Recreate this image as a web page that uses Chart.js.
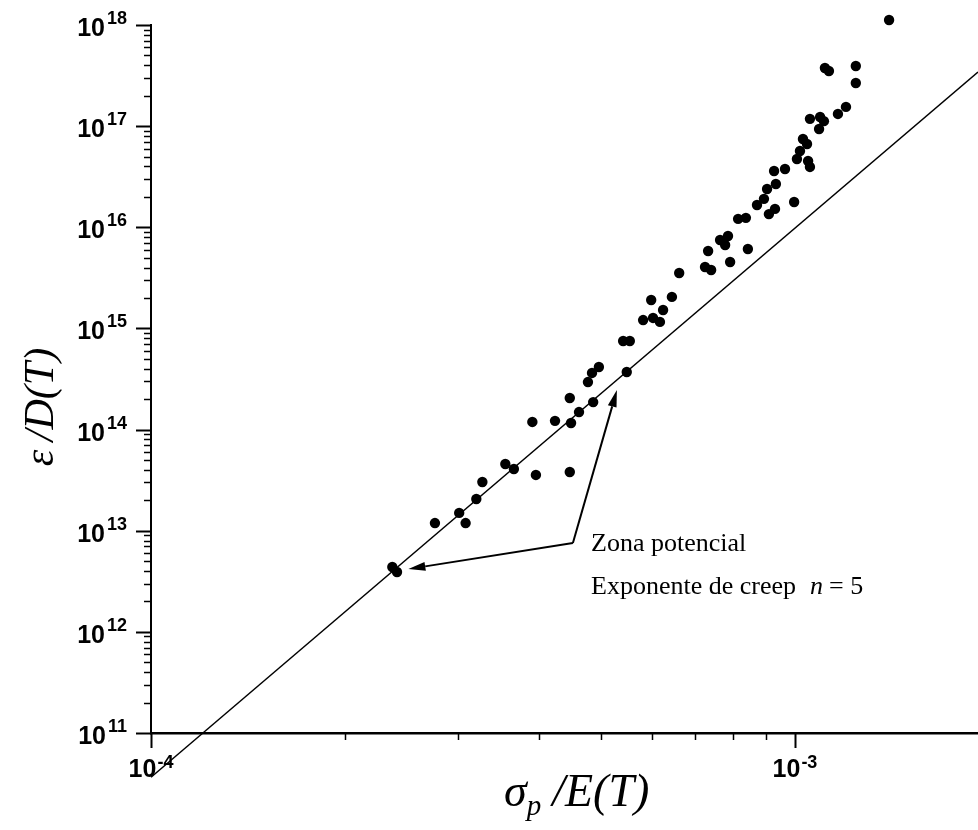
<!DOCTYPE html>
<html>
<head>
<meta charset="utf-8">
<script src="https://cdn.jsdelivr.net/npm/chart.js@4.4.0/dist/chart.umd.min.js"></script>
<style>
html,body{margin:0;padding:0;background:#ffffff;}
canvas{display:block;}
</style>
</head>
<body>
<canvas id="chart" width="978" height="830"></canvas>
<script>
// ---- data ----
const stressRatio = [
  2.37e-4, 2.41e-4, 2.76e-4, 3.01e-4, 3.08e-4, 3.20e-4, 3.27e-4, 3.55e-4, 3.66e-4, 3.96e-4,
  4.47e-4, 3.91e-4, 4.24e-4, 4.49e-4, 4.47e-4, 4.62e-4, 4.86e-4, 4.77e-4, 4.84e-4, 4.96e-4,
  5.41e-4, 5.54e-4, 5.48e-4, 5.81e-4, 5.98e-4, 6.02e-4, 6.17e-4, 6.24e-4, 6.44e-4, 6.61e-4,
  7.25e-4, 7.41e-4, 7.33e-4, 7.93e-4, 8.45e-4, 7.65e-4, 7.87e-4, 7.79e-4, 8.16e-4, 8.39e-4,
  8.73e-4, 8.95e-4, 9.05e-4, 9.34e-4, 9.11e-4, 9.31e-4, 9.97e-4, 9.28e-4, 9.65e-4, 1.007e-3,
  1.018e-3, 1.029e-3, 1.044e-3, 1.048e-3, 1.055e-3, 1.055e-3, 1.094e-3, 1.109e-3, 1.090e-3, 1.166e-3,
  1.200e-3, 1.113e-3, 1.129e-3, 1.243e-3, 1.243e-3, 1.400e-3
];
const creepRate = [
  4.38e12, 3.91e12, 1.19e13, 1.50e13, 1.19e13, 2.06e13, 3.03e13, 4.57e13, 4.08e13, 3.56e13,
  3.81e13, 1.19e14, 1.22e14, 1.16e14, 2.05e14, 1.49e14, 1.87e14, 2.95e14, 3.63e14, 4.16e14,
  7.51e14, 7.51e14, 3.71e14, 1.21e15, 1.91e15, 1.27e15, 1.16e15, 1.52e15, 2.05e15, 3.53e15,
  4.05e15, 3.78e15, 5.83e15, 4.54e15, 6.10e15, 7.49e15, 8.20e15, 6.68e15, 1.21e16, 1.24e16,
  1.66e16, 1.91e16, 2.39e16, 2.68e16, 1.35e16, 1.52e16, 1.78e16, 3.60e16, 3.77e16, 4.73e16,
  5.68e16, 7.47e16, 6.66e16, 4.52e16, 3.95e16, 1.18e17, 1.23e17, 1.12e17, 9.37e16, 1.32e17,
  1.55e17, 3.76e17, 3.51e17, 3.93e17, 2.67e17, 1.12e18
];
const fitLineX = [1.0e-4, 1.924e-3];
const fitLineY = [3.65e10, 3.43e17];
const xTickExponents = [-4, -3];
const yTickExponents = [11, 12, 13, 14, 15, 16, 17, 18];
const minorMultipliers = [2, 3, 4, 5, 6, 7, 8, 9];
const annotationVertex = [4.52e-4, 7.56e12];
const annotationTips = [[5.29e-4, 2.46e14], [2.51e-4, 4.18e12]];
const annotationLine1 = 'Zona potencial';
const annotationLine2 = 'Exponente de creep';
const annotationSymbol = 'n';
const annotationValue = '= 5';

// ---- tick builders ----
function logTicks(exps, lo, hi) {
  const out = [];
  exps.forEach(e => {
    const base = Math.pow(10, e);
    out.push({value: base, major: true});
    minorMultipliers.forEach(m => {
      const v = m * base;
      if (v >= lo && v <= hi) out.push({value: v, major: false});
    });
  });
  return out.filter(t => t.value >= lo * 0.999 && t.value <= hi * 1.001);
}

const X_MIN = 1e-4, X_MAX = 1.924e-3, Y_MIN = 1e11, Y_MAX = 1e18;

const SERIF = '"Liberation Serif", "Times New Roman", "DejaVu Serif", serif';
const SANS = '"Liberation Sans", Arial, "DejaVu Sans", sans-serif';

const decorations = {
  id: 'decorations',
  afterDraw(chart) {
    const ctx = chart.ctx;
    const xs = chart.scales.x, ys = chart.scales.y;
    const area = chart.chartArea;
    ctx.save();
    ctx.strokeStyle = '#000';
    ctx.fillStyle = '#000';

    // tick marks
    ys.ticks.forEach(t => {
      const py = Math.round(ys.getPixelForValue(t.value)) + 0.5;
      const len = t.major ? 15 : 7;
      ctx.lineWidth = t.major ? 2 : 1.5;
      ctx.beginPath();
      ctx.moveTo(area.left - len, py);
      ctx.lineTo(area.left, py);
      ctx.stroke();
    });
    xs.ticks.forEach(t => {
      const px = Math.round(xs.getPixelForValue(t.value)) + 0.5;
      const len = t.major ? 15 : 7;
      ctx.lineWidth = t.major ? 2 : 1.5;
      ctx.beginPath();
      ctx.moveTo(px, area.bottom);
      ctx.lineTo(px, area.bottom + len);
      ctx.stroke();
    });

    // power-of-ten labels
    const baseFont = 'bold 25px ' + SANS;
    const supFont = 'bold 18px ' + SANS;
    ctx.textAlign = 'left';
    ctx.textBaseline = 'alphabetic';
    ys.ticks.filter(t => t.major).forEach(t => {
      const e = Math.round(Math.log10(t.value));
      const py = ys.getPixelForValue(t.value);
      ctx.font = baseFont;
      const w1 = ctx.measureText('10').width;
      ctx.font = supFont;
      const w2 = ctx.measureText(String(e)).width;
      const start = 127 - w2 - w1 - 2;
      ctx.font = baseFont;
      ctx.fillText('10', start, py + 11);
      ctx.font = supFont;
      ctx.fillText(String(e), start + w1 + 2, py - 1);
    });
    xs.ticks.filter(t => t.major).forEach(t => {
      const e = Math.round(Math.log10(t.value));
      const px = xs.getPixelForValue(t.value);
      const sup = '-' + Math.abs(e);
      ctx.font = baseFont;
      const w1 = ctx.measureText('10').width;
      ctx.font = supFont;
      const w2 = ctx.measureText(sup).width;
      const start = px - (w1 + w2 + 1) / 2;
      ctx.font = baseFont;
      ctx.fillText('10', start, 777);
      ctx.font = supFont;
      ctx.fillText(sup, start + w1 + 1, 768);
    });

    // axis titles
    ctx.save();
    ctx.translate(53, 407);
    ctx.rotate(-Math.PI / 2);
    ctx.font = 'italic 42px ' + SERIF;
    ctx.textAlign = 'center';
    ctx.fillText('\u03B5\u2009/D(T)', 0, 0);
    ctx.restore();

    ctx.textAlign = 'left';
    let tx = 504;
    ctx.font = 'italic 46px ' + SERIF;
    ctx.fillText('\u03C3', tx, 806);
    tx += ctx.measureText('\u03C3').width;
    ctx.font = 'italic 29px ' + SERIF;
    ctx.fillText('p', tx, 815);
    tx += ctx.measureText('p').width + 11;
    ctx.font = 'italic 46px ' + SERIF;
    ctx.fillText('/E(T)', tx, 806);

    // annotation arrows
    const vx = xs.getPixelForValue(annotationVertex[0]);
    const vy = ys.getPixelForValue(annotationVertex[1]);
    ctx.lineWidth = 2;
    annotationTips.forEach(tip => {
      const tx2 = xs.getPixelForValue(tip[0]);
      const ty2 = ys.getPixelForValue(tip[1]);
      const ang = Math.atan2(ty2 - vy, tx2 - vx);
      const headLen = 17, headW = 4.5;
      const bx = tx2 - headLen * Math.cos(ang);
      const by = ty2 - headLen * Math.sin(ang);
      ctx.beginPath();
      ctx.moveTo(vx, vy);
      ctx.lineTo(bx, by);
      ctx.stroke();
      ctx.beginPath();
      ctx.moveTo(tx2, ty2);
      ctx.lineTo(bx + headW * Math.sin(ang), by - headW * Math.cos(ang));
      ctx.lineTo(bx - headW * Math.sin(ang), by + headW * Math.cos(ang));
      ctx.closePath();
      ctx.fill();
    });

    // annotation text
    ctx.font = '26px ' + SERIF;
    ctx.fillText(annotationLine1, 591, 551);
    ctx.fillText(annotationLine2, 591, 594);
    let ax = 591 + ctx.measureText(annotationLine2).width + 14;
    ctx.font = 'italic 26px ' + SERIF;
    ctx.fillText(annotationSymbol, ax, 594);
    ax += ctx.measureText(annotationSymbol).width + 6;
    ctx.font = '26px ' + SERIF;
    ctx.fillText(annotationValue, ax, 594);

    ctx.restore();
  }
};

const points = stressRatio.map((x, i) => ({x: x, y: creepRate[i]}));
const fitPoints = fitLineX.map((x, i) => ({x: x, y: fitLineY[i]}));

new Chart(document.getElementById('chart'), {
  type: 'scatter',
  data: {
    datasets: [
      {
        type: 'line',
        data: fitPoints,
        borderColor: '#000',
        borderWidth: 1.5,
        pointRadius: 0,
        fill: false,
        clip: false,
        order: 2
      },
      {
        type: 'scatter',
        data: points,
        backgroundColor: '#000',
        borderColor: '#000',
        borderWidth: 0,
        pointRadius: 5.2,
        clip: false,
        order: 1
      }
    ]
  },
  options: {
    responsive: false,
    animation: false,
    devicePixelRatio: 1,
    layout: {autoPadding: false, padding: {left: 0, top: 25, right: 0, bottom: 0}},
    plugins: {legend: {display: false}, tooltip: {enabled: false}, title: {display: false}},
    scales: {
      x: {
        type: 'logarithmic',
        position: 'bottom',
        min: X_MIN,
        max: X_MAX,
        grid: {display: false},
        border: {display: true, color: '#000', width: 2.5},
        ticks: {display: false},
        afterBuildTicks(scale) { scale.ticks = logTicks(xTickExponents, X_MIN, X_MAX); },
        afterFit(scale) { scale.height = 97; }
      },
      y: {
        type: 'logarithmic',
        position: 'left',
        min: Y_MIN,
        max: Y_MAX,
        grid: {display: false},
        border: {display: true, color: '#000', width: 2},
        ticks: {display: false},
        afterBuildTicks(scale) { scale.ticks = logTicks(yTickExponents, Y_MIN, Y_MAX); },
        afterFit(scale) { scale.width = 151; }
      }
    }
  },
  plugins: [decorations]
});
</script>
</body>
</html>
